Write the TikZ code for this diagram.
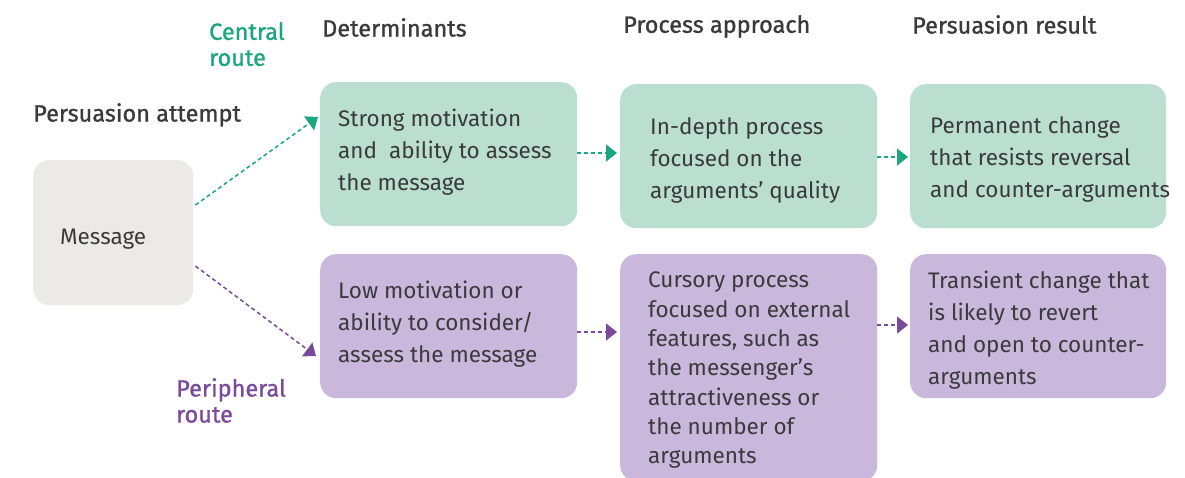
\documentclass[tikz,border=0pt]{standalone}
\usepackage{fontspec}
\setmainfont{Fira Sans}
\usetikzlibrary{arrows.meta}
\definecolor{txt}{HTML}{3A3A3C}
\definecolor{gfill}{HTML}{BADFD1}
\definecolor{gline}{HTML}{1AA680}
\definecolor{pfill}{HTML}{C9B7DC}
\definecolor{pline}{HTML}{7A4B9B}
\definecolor{mfill}{HTML}{EBEAE7}
\tikzset{
  x=1pt,y=-1pt,
  box/.style={rounded corners=16pt, inner sep=0pt, anchor=north west},
  gbox/.style={box, fill=gfill},
  pbox/.style={box, fill=pfill},
  lbl/.style={anchor=north west, inner sep=0pt, align=left, text=txt, font=\fontsize{22.5}{32}\selectfont},
  head/.style={anchor=north west, inner sep=0pt, align=left, text=txt, font=\fontsize{23.5}{26}\selectfont\addfontfeature{FakeBold=1}},
  conn/.style={line width=1.5pt, dash pattern=on 4pt off 3pt, -{Triangle[length=11pt,width=17pt]}},
  garr/.style={conn, gline},
  parr/.style={conn, pline},
}
\begin{document}
\begin{tikzpicture}
\useasboundingbox (0,0) rectangle (1185,477);
\fill[white] (0,0) rectangle (1185,477);
% headers
\node[head, text=gline] (hc) at (209,22) {Central\\route};
\node[head] (hd) at (322,18) {Determinants};
\node[head] (hp) at (623,15) {Process approach};
\node[head] (hr) at (912,15) {Persuasion result};
\node[head] (ha) at (33,103) {Persuasion attempt};
\node[head, text=pline] (hpr) at (176,378) {Peripheral\\route};
% boxes
\node[box, fill=mfill, minimum width=160pt, minimum height=145pt] (m) at (33,160) {};
\node[gbox, minimum width=257pt, minimum height=144pt] (g1) at (320,82) {};
\node[gbox, minimum width=257pt, minimum height=144pt] (g2) at (620,84) {};
\node[gbox, minimum width=256pt, minimum height=144pt] (g3) at (910,84) {};
\node[pbox, minimum width=257pt, minimum height=144pt] (p1) at (320,254) {};
\node[pbox, minimum width=257pt, minimum height=227pt] (p2) at (620,254) {};
\node[pbox, minimum width=256pt, minimum height=144pt] (p3) at (910,254) {};
% labels
\node[lbl] (tm) at (60,229) {Message};
\node[lbl] (t1) at (338,109) {Strong motivation\\and\ \ ability to assess\\the message};
\node[lbl] (t2) at (650,117) {In-depth process\\focused on the\\arguments’ quality};
\node[lbl] (t3) at (930,116) {Permanent change\\that resists reversal\\and counter-arguments};
\node[lbl] (t4) at (338,281) {Low motivation or\\ability to consider/\\assess the message};
\node[lbl, font=\fontsize{22.5}{29.3}\selectfont] (t5) at (648,272) {Cursory process\\focused on external\\features, such as\\the messenger’s\\attractiveness or\\the number of\\arguments};
\node[lbl] (t6) at (928,271) {Transient change that\\is likely to revert\\and open to counter-\\arguments};
% connectors
\draw[garr] (m.north east |- 0,205) ++(2,0) -- ([xshift=-2pt]g1.west |- 0,117);
\draw[parr] (m.north east |- 0,266) ++(2,0) -- ([xshift=-4pt]p1.west |- 0,356);
\draw[garr] (g1.east |- 0,153) -- ([xshift=-3pt]g2.west |- 0,153);
\draw[garr] (g2.east |- 0,157) -- ([xshift=-2pt]g3.west |- 0,157);
\draw[parr] (p1.east |- 0,332) -- ([xshift=-3pt]p2.west |- 0,332);
\draw[parr] (p2.east |- 0,325) -- ([xshift=-2pt]p3.west |- 0,325);
\end{tikzpicture}
\end{document}
